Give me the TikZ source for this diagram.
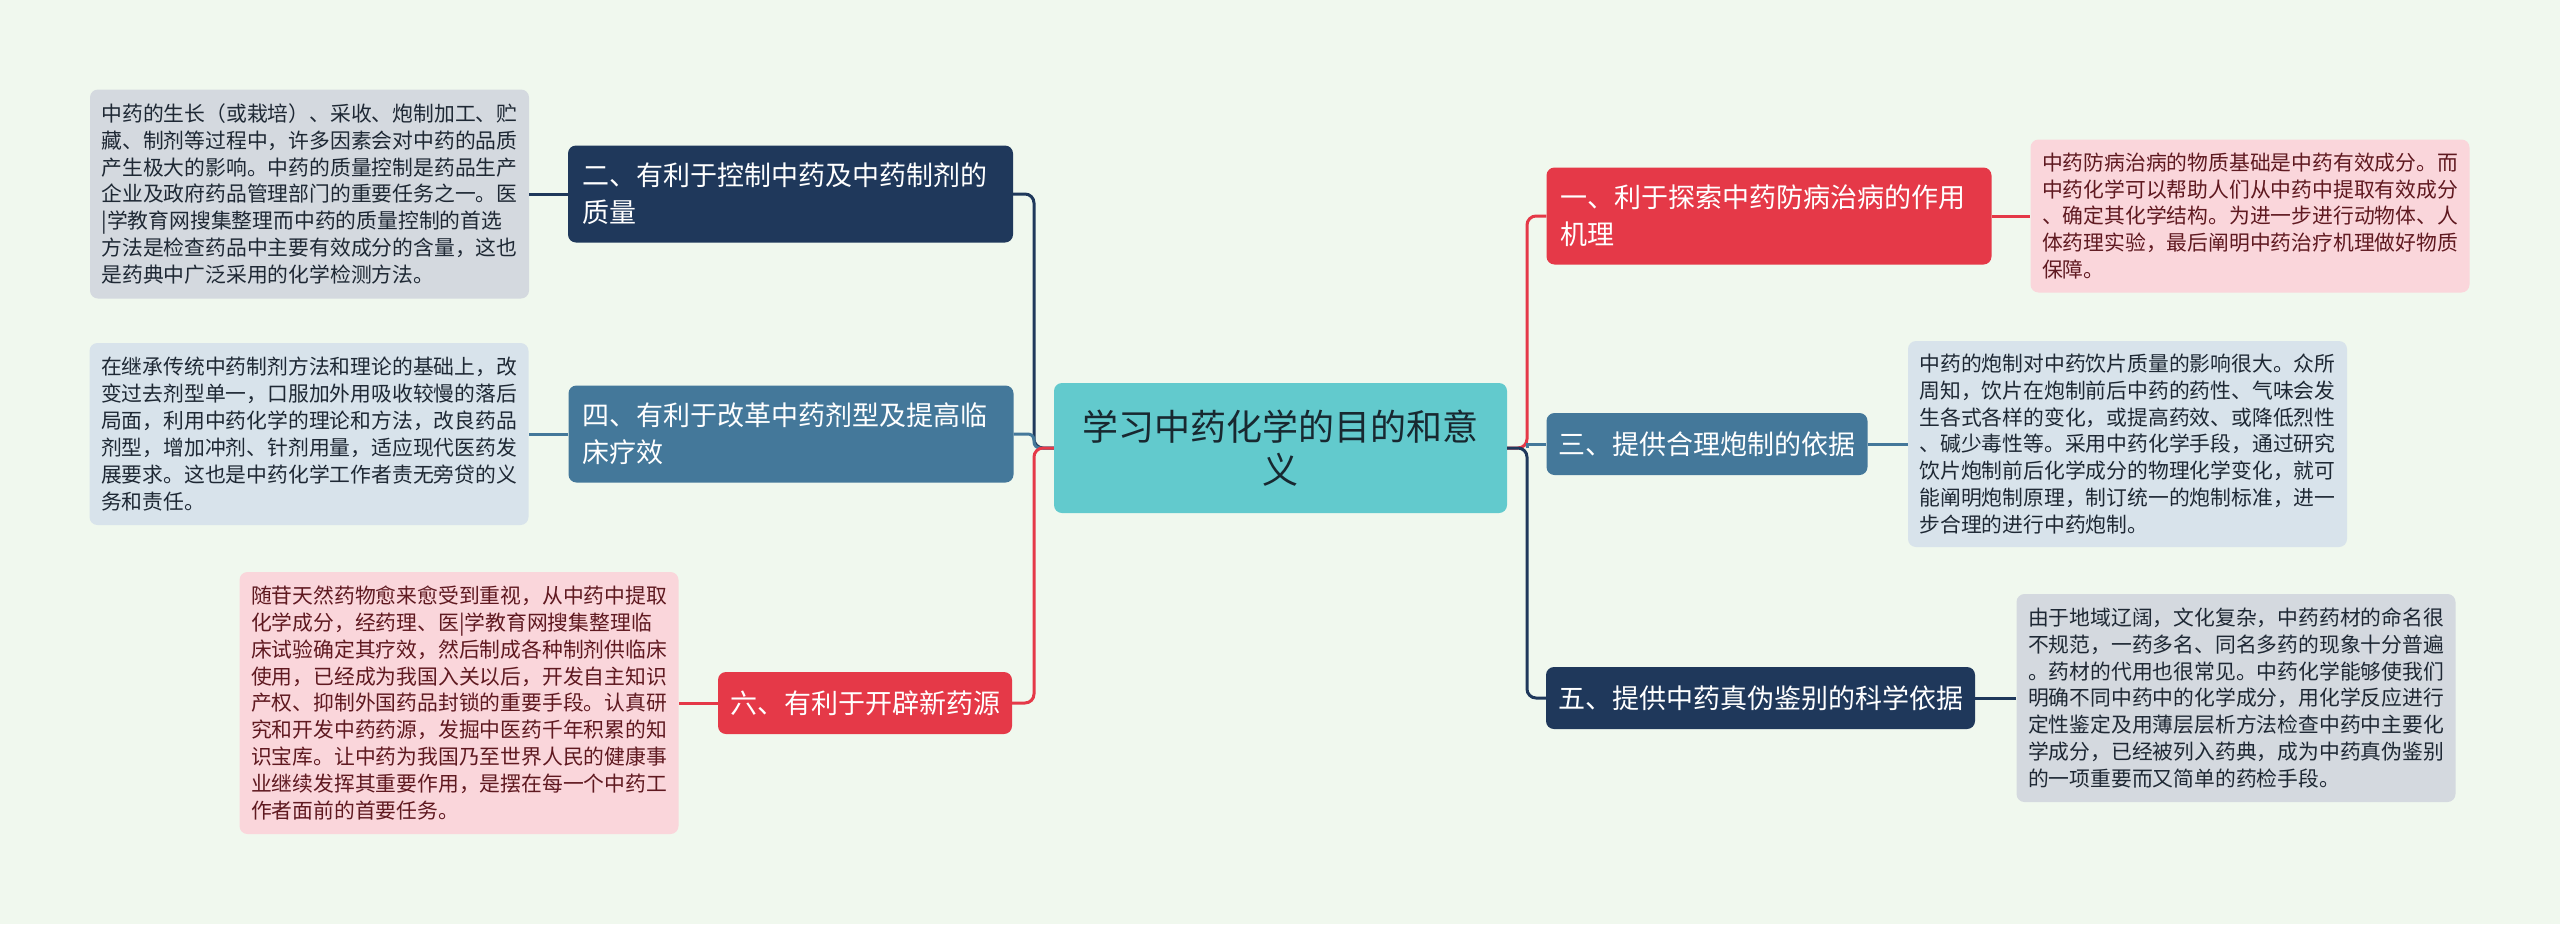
\documentclass[tikz,border=0pt]{standalone}
\usepackage{fontspec}
\setmainfont{Noto Sans CJK SC}
\definecolor{bg}{RGB}{240,248,238}
\definecolor{navy}{RGB}{31,56,91}
\definecolor{steel}{RGB}{68,120,154}
\definecolor{crimson}{RGB}{229,57,72}
\definecolor{teal}{RGB}{98,202,205}
\definecolor{leafgray}{RGB}{212,217,223}
\definecolor{leafblue}{RGB}{216,227,235}
\definecolor{leafpink}{RGB}{250,214,219}
\definecolor{darktext}{RGB}{30,40,52}
\definecolor{pinktext}{RGB}{95,25,32}
\definecolor{centertext}{RGB}{24,40,48}
\tikzset{
  centerbox/.style={rounded corners=8pt, fill=teal, text=centertext, align=center,
    text width=425pt, minimum width=453pt, minimum height=130pt, inner xsep=14pt, inner ysep=0pt,
    font=\fontsize{36}{43}\selectfont},
  branchtwo/.style={rounded corners=8pt, text=white, align=left, text width=417pt,
    inner xsep=14pt, inner ysep=0pt, minimum height=97pt, font=\fontsize{27}{37}\selectfont},
  branchone/.style={rounded corners=8pt, text=white, inner xsep=12pt, inner ysep=0pt,
    minimum height=62pt, font=\fontsize{27}{37}\selectfont},
  leafbox/.style={rounded corners=8pt, align=left, text width=416pt, inner xsep=11.5pt,
    inner ysep=0pt, font=\fontsize{20.8}{26.9}\selectfont},
  conn/.style={line width=3pt, rounded corners=9pt},
  connsharp/.style={line width=3pt, sharp corners},
}
\begin{document}
\begin{tikzpicture}[x=1pt,y=-1pt]
\fill[bg] (0,0) rectangle (2560,924);
\useasboundingbox (0,0) rectangle (2560,924);

% center
\node[centerbox] (c) at (1280.5,448) {学习中药化学的目的和意\\义};

% left branches
\node[branchtwo, fill=navy] (b2) at (790.5,194) {二、有利于控制中药及中药制剂的\\质量};
\node[branchtwo, fill=steel] (b4) at (791,434) {四、有利于改革中药剂型及提高临\\床疗效};
\node[branchone, fill=crimson] (b6) at (865,703) {六、有利于开辟新药源};

% right branches
\node[branchtwo, fill=crimson] (b1) at (1769,216) {一、利于探索中药防病治病的作用\\机理};
\node[branchone, fill=steel] (b3) at (1707,444) {三、提供合理炮制的依据};
\node[branchone, fill=navy] (b5) at (1760.5,698) {五、提供中药真伪鉴别的科学依据};

% leaves
\node[leafbox, fill=leafgray, text=darktext, minimum height=209pt] (l2) at (309.5,194) {中药的生长（或栽培）、采收、炮制加工、贮\\藏、制剂等过程中，许多因素会对中药的品质\\产生极大的影响。中药的质量控制是药品生产\\企业及政府药品管理部门的重要任务之一。医\\|学教育网搜集整理而中药的质量控制的首选\\方法是检查药品中主要有效成分的含量，这也\\是药典中广泛采用的化学检测方法。};
\node[leafbox, fill=leafblue, text=darktext, minimum height=182pt] (l4) at (309,434) {在继承传统中药制剂方法和理论的基础上，改\\变过去剂型单一，口服加外用吸收较慢的落后\\局面，利用中药化学的理论和方法，改良药品\\剂型，增加冲剂、针剂用量，适应现代医药发\\展要求。这也是中药化学工作者责无旁贷的义\\务和责任。};
\node[leafbox, fill=leafpink, text=pinktext, minimum height=262pt] (l6) at (459,703) {随苷天然药物愈来愈受到重视，从中药中提取\\化学成分，经药理、医|学教育网搜集整理临\\床试验确定其疗效，然后制成各种制剂供临床\\使用，已经成为我国入关以后，开发自主知识\\产权、抑制外国药品封锁的重要手段。认真研\\究和开发中药药源，发掘中医药千年积累的知\\识宝库。让中药为我国乃至世界人民的健康事\\业继续发挥其重要作用，是摆在每一个中药工\\作者面前的首要任务。};
\node[leafbox, fill=leafpink, text=pinktext, minimum height=153pt] (l1) at (2250,216) {中药防病治病的物质基础是中药有效成分。而\\中药化学可以帮助人们从中药中提取有效成分\\、确定其化学结构。为进一步进行动物体、人\\体药理实验，最后阐明中药治疗机理做好物质\\保障。};
\node[leafbox, fill=leafblue, text=darktext, minimum height=206pt] (l3) at (2127.5,444) {中药的炮制对中药饮片质量的影响很大。众所\\周知，饮片在炮制前后中药的药性、气味会发\\生各式各样的变化，或提高药效、或降低烈性\\、碱少毒性等。采用中药化学手段，通过研究\\饮片炮制前后化学成分的物理化学变化，就可\\能阐明炮制原理，制订统一的炮制标准，进一\\步合理的进行中药炮制。};
\node[leafbox, fill=leafgray, text=darktext, minimum height=208pt] (l5) at (2236,698) {由于地域辽阔，文化复杂，中药药材的命名很\\不规范，一药多名、同名多药的现象十分普遍\\。药材的代用也很常见。中药化学能够使我们\\明确不同中药中的化学成分，用化学反应进行\\定性鉴定及用薄层层析方法检查中药中主要化\\学成分，已经被列入药典，成为中药真伪鉴别\\的一项重要而又简单的药检手段。};

% trunk coordinates
\coordinate (tl) at (1034,448);
\coordinate (tr) at (1527,448);

% left connectors
\draw[conn, navy] (c.west) -- (tl) |- (b2.east);
\draw[conn, steel, rounded corners=6pt] (c.west) -- (tl) |- (b4.east);
\draw[conn, crimson] (c.west) -- (tl) |- (b6.east);
% right connectors
\draw[conn, crimson] (c.east) -- (tr) |- (b1.west);
\draw[connsharp, steel] (tr) -- (tr |- b3.west) -- (b3.west);
\draw[conn, navy] (c.east) -- (tr) |- (b5.west);

% leaf connectors
\draw[conn, navy] (b2.west) -- (b2.west -| l2.east);
\draw[conn, steel] (b4.west) -- (b4.west -| l4.east);
\draw[conn, crimson] (b6.west) -- (b6.west -| l6.east);
\draw[conn, crimson] (b1.east) -- (b1.east -| l1.west);
\draw[conn, steel] (b3.east) -- (b3.east -| l3.west);
\draw[conn, navy] (b5.east) -- (b5.east -| l5.west);
\end{tikzpicture}
\end{document}
